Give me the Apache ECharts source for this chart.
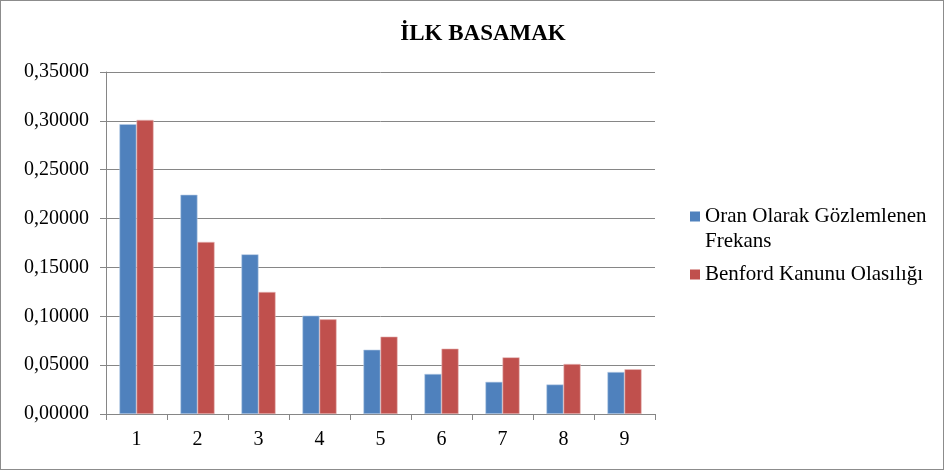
<!DOCTYPE html>
<html>
<head>
<meta charset="utf-8">
<script src="https://cdn.jsdelivr.net/npm/echarts@6/dist/echarts.min.js"></script>
<style>
  html, body { margin: 0; padding: 0; background: #fff; }
  #chart { width: 944px; height: 470px; box-sizing: border-box; border: 1px solid #8c8c8c; }
</style>
</head>
<body>
<div id="chart"></div>
<script>
// veriler
var digits = ['1', '2', '3', '4', '5', '6', '7', '8', '9'];
var observed = [0.2966, 0.2244, 0.1634, 0.1007, 0.0658, 0.0410, 0.0329, 0.0302, 0.0430];
var benford = [0.3010, 0.1761, 0.1249, 0.0969, 0.0792, 0.0669, 0.0580, 0.0512, 0.0458];
var seriesNames = ['Oran Olarak Gözlemlenen Frekans', 'Benford Kanunu Olasılığı'];

var myChart = echarts.init(document.getElementById('chart'));
var font = '"Liberation Serif", "Times New Roman", serif';
var legendText = { fontFamily: font, fontSize: 21, color: '#000', lineHeight: 25 };
var options = {
    animation: false,
    title: {
        text: 'İLK BASAMAK',
        left: 477,
        textAlign: 'center',
        top: 17,
        textStyle: { fontFamily: font, fontSize: 23, fontWeight: 'bold', color: '#000' }
    },
    // iki ayrı lejant: ilk satır kare ile aynı hizada olsun (baştaki boş satır)
    legend: [{
        orient: 'vertical',
        left: 689,
        top: 178,
        padding: 0,
        itemWidth: 10,
        itemHeight: 10,
        icon: 'rect',
        itemStyle: { borderWidth: 0 },
        data: [seriesNames[0]],
        formatter: function () { return ' \nOran Olarak Gözlemlenen\nFrekans'; },
        textStyle: legendText
    }, {
        orient: 'vertical',
        left: 689,
        top: 261,
        padding: 0,
        itemWidth: 10,
        itemHeight: 10,
        icon: 'rect',
        itemStyle: { borderWidth: 0 },
        data: [seriesNames[1]],
        textStyle: legendText
    }],
    grid: { left: 105, right: 288, top: 71, bottom: 55 },
    xAxis: {
        type: 'category',
        data: digits,
        axisLine: { lineStyle: { color: '#868686' } },
        axisTick: { show: true, length: 6, lineStyle: { color: '#868686' } },
        axisLabel: { fontFamily: font, fontSize: 20, color: '#000', margin: 16 }
    },
    yAxis: {
        type: 'value',
        min: 0,
        max: 0.35,
        interval: 0.05,
        axisLine: { show: true, lineStyle: { color: '#868686' } },
        axisTick: { show: true, length: 6, lineStyle: { color: '#868686' } },
        splitLine: { lineStyle: { color: '#868686', width: 1 } },
        axisLabel: {
            fontFamily: font, fontSize: 20, color: '#000', margin: 17,
            formatter: function (v) { return v.toFixed(5).replace('.', ','); }
        }
    },
    series: [{
        name: seriesNames[0],
        type: 'bar',
        data: observed,
        barGap: '0%',
        barCategoryGap: '44%',
        itemStyle: { color: '#4F81BD', borderColor: '#b9cde5', borderWidth: 0.6 }
    }, {
        name: seriesNames[1],
        type: 'bar',
        data: benford,
        itemStyle: { color: '#C0504D', borderColor: '#e6b9b8', borderWidth: 0.6 }
    }]
};
myChart.setOption(options);
</script>
</body>
</html>
